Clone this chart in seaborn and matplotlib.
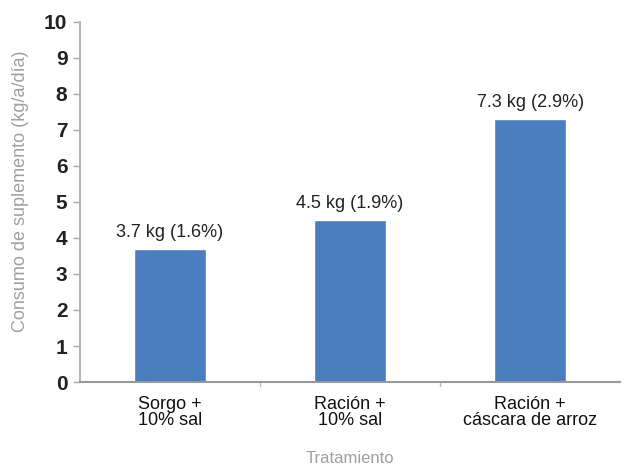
import matplotlib
matplotlib.use("Agg")
import matplotlib.pyplot as plt
import seaborn as sns
import pandas as pd

categories = ["Sorgo +\n10% sal", "Ración +\n10% sal", "Ración +\ncáscara de arroz"]
values = [3.7, 4.5, 7.3]
labels = ["3.7 kg (1.6%)", "4.5 kg (1.9%)", "7.3 kg (2.9%)"]
yticks = list(range(0, 11))

sns.set_theme(style="white")
plt.rcParams['font.family'] = ['Liberation Sans', 'DejaVu Sans']

df = pd.DataFrame({"cat": categories, "val": values})

fig = plt.figure(figsize=(6.29, 4.67), dpi=100)
ax = fig.add_axes([0.127, 0.182, 0.859, 0.771])
sns.barplot(data=df, x="cat", y="val", color="#4a7ebf", width=0.4, saturation=1, ax=ax)

for i, (v, t) in enumerate(zip(values, labels)):
    ax.text(i, v + 0.22, t, ha="center", va="bottom", fontsize=13, color="#222222")

ax.set_ylim(0, 10)
ax.set_xlim(-0.5, 2.5)
ax.set_yticks(yticks)
ax.set_yticklabels([str(t) for t in yticks], fontsize=15, fontweight="bold", color="#222222")
ax.set_xticks([0, 1, 2])
ax.set_xticklabels(categories, fontsize=13, color="#111111", linespacing=0.95)
ax.tick_params(axis="x", length=0, pad=10)
ax.tick_params(axis="y", length=5, width=1, color="#aaaaaa", left=True, pad=4)
for b in [0.5, 1.5]:
    ax.plot([b, b], [0, -0.12], color="#bbbbbb", lw=1, clip_on=False, transform=ax.transData)

ax.set_ylabel("Consumo de suplemento (kg/a/día)", fontsize=13, color="#a0a0a0")
ax.yaxis.set_label_coords(-0.095, 0.53)
ax.set_xlabel("Tratamiento", fontsize=12, color="#a0a0a0", labelpad=16)

for s in ["top", "right"]:
    ax.spines[s].set_visible(False)
ax.spines["left"].set_color("#aaaaaa")
ax.spines["bottom"].set_color("#999999")
ax.spines["bottom"].set_linewidth(1.5)

fig.savefig("out.png", dpi=100)
